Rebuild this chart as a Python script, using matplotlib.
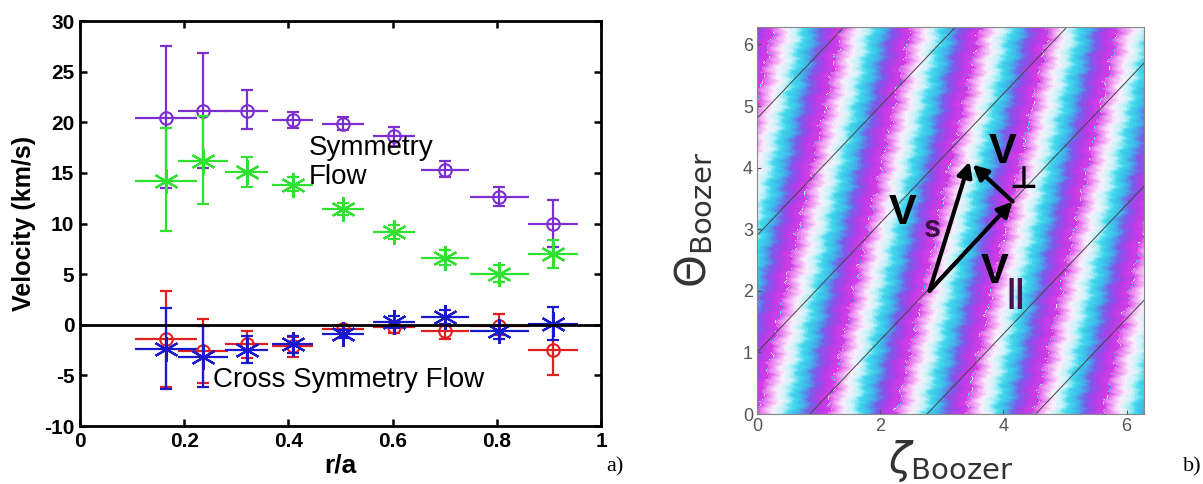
import numpy as np
import matplotlib
matplotlib.use('Agg')
import matplotlib.pyplot as plt
from matplotlib.colors import LinearSegmentedColormap

plt.rcParams['font.family'] = ['Liberation Sans', 'DejaVu Sans']
plt.rcParams['mathtext.fontset'] = 'dejavusans'
plt.rcParams['axes.unicode_minus'] = False

# ---- panel a) data ----
r_a = [0.165, 0.236, 0.32, 0.408, 0.505, 0.603, 0.70, 0.805, 0.907]
r_err = [0.06, 0.048, 0.041, 0.039, 0.040, 0.040, 0.046, 0.057, 0.048]

sym_purple = [20.4, 21.1, 21.1, 20.2, 19.8, 18.6, 15.3, 12.6, 10.0]
sym_purple_lo = [13.5, 15.5, 19.3, 19.4, 19.2, 17.7, 14.6, 11.7, 7.7]
sym_purple_hi = [27.5, 26.8, 23.2, 21.0, 20.5, 19.5, 16.2, 13.6, 12.3]

sym_green = [14.2, 16.2, 15.1, 13.8, 11.4, 9.2, 6.6, 5.0, 7.0]
sym_green_lo = [9.3, 11.9, 13.6, 13.2, 10.8, 8.5, 5.9, 4.2, 5.6]
sym_green_hi = [19.4, 20.6, 16.6, 14.6, 12.0, 9.9, 7.4, 5.9, 8.4]

cross_red = [-1.4, -2.6, -1.9, -2.1, -0.4, -0.2, -0.6, -0.1, -2.5]
cross_red_lo = [-6.1, -5.8, -3.3, -3.2, -0.9, -0.8, -1.4, -1.0, -5.0]
cross_red_hi = [3.3, 0.6, -0.6, -1.2, 0.0, 0.3, 0.1, 1.1, 0.0]

cross_blue = [-2.4, -3.2, -2.5, -1.9, -0.9, 0.3, 0.8, -0.6, 0.1]
cross_blue_lo = [-6.3, -6.1, -3.8, -2.8, -1.3, -0.3, 0.1, -1.4, -1.5]
cross_blue_hi = [1.7, -0.1, -1.1, -1.1, -0.5, 0.9, 1.5, 0.0, 1.8]

# ---- panel b) data ----
field_line_offsets = [1.0, 2.9, 4.8, -0.9, -2.9, -4.75]
field_line_slope = 1.05
stripe_period = 1.12      # in zeta
stripe_tilt = 4.6         # d(theta)/d(zeta) along a stripe
stripe_colors = ['#d63ae6', '#ee9cf3', '#fbeefc', '#c4f3f8', '#3fd8ec',
                 '#3fb2ea', '#7a5ae8', '#b03ee8', '#d63ae6']

arrow_tail = (2.8, 2.0)
vs_tip = (3.45, 4.1)
vpar_tip = (4.15, 3.45)

fig = plt.figure(figsize=(12.03, 4.84), dpi=100)

# ================= panel a =================
ax = fig.add_axes([0.0665, 0.1198, 0.4331, 0.8368])

def draw(x, y, lo, hi, color, marker, ms, mew):
    y = np.array(y)
    yerr = [y - np.array(lo), np.array(hi) - y]
    ax.errorbar(x, y, xerr=r_err, fmt='none', ecolor=color, elinewidth=1.6, capsize=0)
    ax.errorbar(x, y, yerr=yerr, fmt='none', ecolor=color, elinewidth=1.6,
                capsize=4, capthick=1.6)
    ax.plot(x, y, linestyle='none', marker=marker, ms=ms, mfc='none',
            mec=color, mew=mew)

draw(r_a, sym_purple, sym_purple_lo, sym_purple_hi, '#7b2fd0', 'o', 9, 1.5)
draw(r_a, sym_green, sym_green_lo, sym_green_hi, '#2fe22f', (6, 2, 0), 18, 1.6)
draw(r_a, cross_red, cross_red_lo, cross_red_hi, '#e02020', 'o', 9, 1.5)
draw(r_a, cross_blue, cross_blue_lo, cross_blue_hi, '#1a1acc', (6, 2, 0), 18, 1.6)

ax.axhline(0, color='black', lw=2)
ax.set_xlim(0, 1)
ax.set_ylim(-10, 30)
ax.set_xticks([0, 0.2, 0.4, 0.6, 0.8, 1])
ax.set_xticklabels(['0', '0.2', '0.4', '0.6', '0.8', '1'])
ax.set_yticks(np.arange(-10, 31, 5))
ax.tick_params(direction='in', length=5, width=1.8, top=True, right=True,
               labelsize=15, pad=4)
for lab in ax.get_xticklabels() + ax.get_yticklabels():
    lab.set_fontweight('bold')
for s in ax.spines.values():
    s.set_linewidth(2)
ax.set_xlabel('r/a', fontsize=19, fontweight='bold', labelpad=2)
ax.set_ylabel('Velocity (km/s)', fontsize=18, fontweight='bold', labelpad=6)

ax.text(0.44, 18.7, 'Symmetry\nFlow', fontsize=20, va='top', ha='left',
        linespacing=1.15)
ax.text(0.255, -6.1, 'Cross Symmetry Flow', fontsize=20, va='baseline', ha='left')

fig.text(0.504, 0.025, 'a)', fontsize=16, family='Liberation Serif')
fig.text(0.983, 0.025, 'b)', fontsize=16, family='Liberation Serif')

# ================= panel b =================
bx = fig.add_axes([0.6293, 0.1446, 0.3217, 0.7996])
twopi = 2 * np.pi
z = np.linspace(0, twopi, 600)
th = np.linspace(0, twopi, 600)
Z, TH = np.meshgrid(z, th)
phase = (Z - TH / stripe_tilt) / stripe_period
# streaky texture along the stripes
phase = phase + 0.025 * np.sin(17 * TH + 3 * Z) + 0.018 * np.sin(41 * TH - 9 * Z) \
    + 0.012 * np.sin(67 * TH + 21 * Z)
phase = np.mod(phase, 1.0)
cmap = LinearSegmentedColormap.from_list('stripes', stripe_colors)
bx.contourf(Z, TH, phase, levels=np.linspace(0, 1, 30), cmap=cmap)

for c in field_line_offsets:
    bx.plot(z, field_line_slope * z + c, color='#444444', lw=0.7)

arrow = dict(arrowstyle='-|>', lw=3, color='black', mutation_scale=22,
             shrinkA=0, shrinkB=0)
bx.annotate('', xy=vs_tip, xytext=arrow_tail, arrowprops=arrow)
bx.annotate('', xy=vpar_tip, xytext=arrow_tail, arrowprops=arrow)
bx.annotate('', xy=(vs_tip[0] + 0.05, vs_tip[1] - 0.05), xytext=vpar_tip,
            arrowprops=arrow)

bx.text(2.37, 3.27, 'V', fontsize=30, fontweight='bold', ha='center', va='center')
bx.text(2.85, 3.0, 's', fontsize=22, fontweight='bold', ha='center', va='center',
        color='#3a1040')
bx.text(3.85, 2.3, 'V', fontsize=30, fontweight='bold', ha='center', va='center')
bx.text(4.2, 1.95, '||', fontsize=24, fontweight='bold', ha='center', va='center',
        color='#4a1050')
bx.text(3.98, 4.25, 'V', fontsize=30, fontweight='bold', ha='center', va='center')
bx.text(4.32, 3.8, '⊥', fontsize=22, fontweight='bold', ha='center', va='center',
        family=['DejaVu Sans'])

bx.set_xlim(0, twopi)
bx.set_ylim(0, twopi)
bx.set_xticks([0, 2, 4, 6])
bx.set_yticks([0, 1, 2, 3, 4, 5, 6])
bx.tick_params(direction='in', length=3, colors='#555555', labelsize=13, pad=3)
for s in bx.spines.values():
    s.set_color('#888888')
    s.set_linewidth(0.8)
bx.set_xlabel(r'$\zeta_{\mathrm{Boozer}}$', fontsize=30, color='#333333', labelpad=2)
bx.set_ylabel(r'$\Theta_{\mathrm{Boozer}}$', fontsize=30, color='#333333', labelpad=20)

fig.savefig('out.png', dpi=100)
